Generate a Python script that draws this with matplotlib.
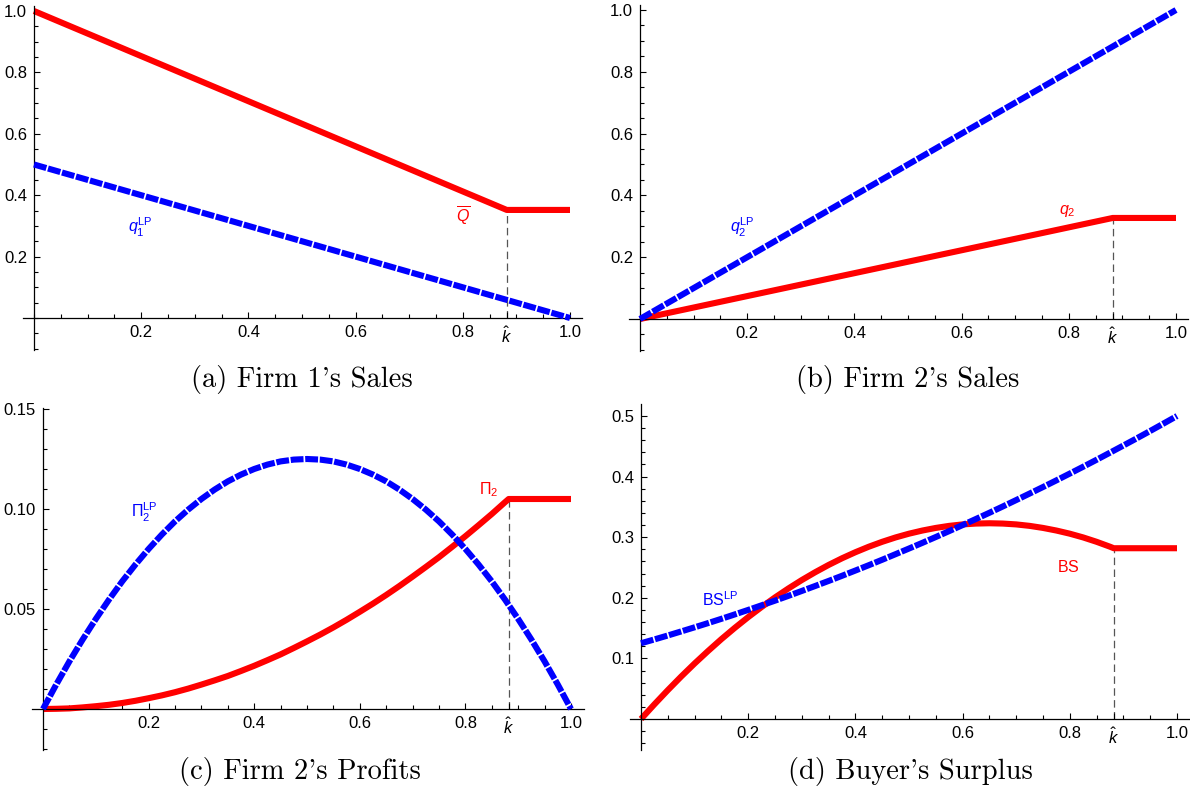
import matplotlib
matplotlib.use('Agg')
import matplotlib.pyplot as plt
from matplotlib.ticker import MultipleLocator

plt.rcParams['font.family'] = ['Liberation Sans', 'DejaVu Sans']
plt.rcParams['mathtext.fontset'] = 'custom'
plt.rcParams['mathtext.rm'] = 'Liberation Sans'
plt.rcParams['mathtext.it'] = 'Liberation Sans:italic'
plt.rcParams['mathtext.bf'] = 'Liberation Sans:bold'

# ------------------------------------------------------------------------------
# data
k_hat = 0.882

# (a) Firm 1's sales
a_red_k = [0.0, k_hat, 1.0]
a_red = [1.0, 0.352, 0.352]
a_blue_k = [0.0, 1.0]
a_blue = [0.5, 0.0]

# (b) Firm 2's sales
b_red_k = [0.0, k_hat, 1.0]
b_red = [0.0, 0.327, 0.327]
b_blue_k = [0.0, 1.0]
b_blue = [0.0, 1.0]

# k values for the curved panels
k_grid = [0.000, 0.025, 0.050, 0.075, 0.100, 0.125, 0.150, 0.175, 0.200, 0.225,
          0.250, 0.275, 0.300, 0.325, 0.350, 0.375, 0.400, 0.425, 0.450, 0.475,
          0.500, 0.525, 0.550, 0.575, 0.600, 0.625, 0.650, 0.675, 0.700, 0.725,
          0.750, 0.775, 0.800, 0.825, 0.850, 0.875, 0.900, 0.925, 0.950, 0.975, 1.000]
red_k = [0.000, 0.025, 0.050, 0.075, 0.100, 0.125, 0.150, 0.175, 0.200, 0.225,
         0.250, 0.275, 0.300, 0.325, 0.350, 0.375, 0.400, 0.425, 0.450, 0.475,
         0.500, 0.525, 0.550, 0.575, 0.600, 0.625, 0.650, 0.675, 0.700, 0.725,
         0.750, 0.775, 0.800, 0.825, 0.850, 0.875, k_hat, 1.000]

# (c) Firm 2's profits
c_blue = [0.0, 0.0122, 0.0238, 0.0347, 0.045, 0.0547, 0.0638, 0.0722, 0.08, 0.0872,
          0.0938, 0.0997, 0.105, 0.1097, 0.1138, 0.1172, 0.12, 0.1222, 0.1238, 0.1247,
          0.125, 0.1247, 0.1238, 0.1222, 0.12, 0.1172, 0.1138, 0.1097, 0.105, 0.0997,
          0.0938, 0.0872, 0.08, 0.0722, 0.0638, 0.0547, 0.045, 0.0347, 0.0238, 0.0122, 0.0]
c_red = [0.0, 0.0001, 0.0003, 0.0008, 0.0014, 0.0021, 0.003, 0.0041, 0.0054, 0.0068,
         0.0084, 0.0102, 0.0122, 0.0143, 0.0165, 0.019, 0.0216, 0.0244, 0.0273, 0.0305,
         0.0338, 0.0372, 0.0408, 0.0446, 0.0486, 0.0527, 0.057, 0.0615, 0.0662, 0.071,
         0.0759, 0.0811, 0.0864, 0.0919, 0.0975, 0.1034, 0.105, 0.105]

# (d) Buyer's surplus
d_blue = [0.125, 0.1313, 0.1378, 0.1445, 0.1513, 0.1582, 0.1653, 0.1726, 0.18, 0.1876,
          0.1953, 0.2032, 0.2113, 0.2195, 0.2278, 0.2363, 0.245, 0.2538, 0.2628, 0.272,
          0.2813, 0.2907, 0.3003, 0.3101, 0.32, 0.3301, 0.3403, 0.3507, 0.3613, 0.372,
          0.3828, 0.3938, 0.405, 0.4163, 0.4278, 0.4395, 0.4513, 0.4632, 0.4753, 0.4876, 0.5]
d_red = [0.0, 0.0242, 0.0476, 0.0701, 0.0916, 0.1121, 0.1318, 0.1504, 0.1681, 0.1848,
         0.2006, 0.2154, 0.2293, 0.2422, 0.2542, 0.2652, 0.2752, 0.2843, 0.2924, 0.2996,
         0.3058, 0.311, 0.3153, 0.3187, 0.3211, 0.3225, 0.323, 0.3225, 0.3211, 0.3187,
         0.3153, 0.311, 0.3058, 0.2996, 0.2924, 0.2843, 0.2818, 0.2818]

captions = ["(a) Firm 1's Sales", "(b) Firm 2's Sales",
            "(c) Firm 2's Profits", "(d) Buyer's Surplus"]

x_ticks = [0.2, 0.4, 0.6, 0.8, k_hat, 1.0]
x_labels = ['0.2', '0.4', '0.6', '0.8', r'$\hat{k}$', '1.0']

# ==============================================================================
W, H = 1190, 796
fig = plt.figure(figsize=(W / 100, H / 100), dpi=100)

RED = '#ff0000'
BLUE = '#0000ff'
LW = 4.4


def make_axes(xo, xe, yo, yt, yt_val, left, right, top, bottom):
    # pixel geometry -> axes rect + limits
    ax = fig.add_axes([left / W, 1 - bottom / H, (right - left) / W, (bottom - top) / H])
    ax.set_xlim((left - xo) / (xe - xo), (right - xo) / (xe - xo))
    ax.set_ylim((yo - bottom) / (yo - yt) * yt_val, (yo - top) / (yo - yt) * yt_val)
    ax.patch.set_alpha(0)
    for s in ['top', 'right']:
        ax.spines[s].set_visible(False)
    ax.spines['left'].set_position(('data', 0))
    ax.spines['bottom'].set_position(('data', 0))
    for s in ['left', 'bottom']:
        ax.spines[s].set_linewidth(0.9)
    ax.tick_params(which='both', direction='in', width=0.8, labelsize=12)
    ax.tick_params(which='major', length=4.5)
    ax.tick_params(which='minor', length=2.6)
    ax.tick_params(axis='x', pad=5)
    ax.tick_params(axis='y', pad=5)
    ax.set_xticks(x_ticks)
    ax.set_xticklabels(x_labels)
    ax.xaxis.set_minor_locator(MultipleLocator(0.05))
    return ax


def blue_line(ax, x, y):
    ax.plot(x, y, color=BLUE, lw=LW, ls=(0, (2.1, 0.28)), dash_capstyle='butt',
            solid_joinstyle='round', zorder=3)


def red_line(ax, x, y):
    ax.plot(x, y, color=RED, lw=LW, solid_capstyle='butt', solid_joinstyle='round', zorder=2)


def k_hat_line(ax, top):
    ax.vlines(k_hat, 0, top, colors='#555555', lw=0.9, linestyles=(0, (6, 3.5)), zorder=1)


# ------------------------------------------------------------------------------
# (a)
ax = make_axes(34, 570, 318, 11, 1.0, 23, 582, 6, 350)
ax.set_yticks([0.2, 0.4, 0.6, 0.8, 1.0])
ax.set_yticklabels(['0.2', '0.4', '0.6', '0.8', '1.0'])
ax.yaxis.set_minor_locator(MultipleLocator(0.05))
k_hat_line(ax, a_red[1])
red_line(ax, a_red_k, a_red)
blue_line(ax, a_blue_k, a_blue)
ax.text(0.198, 0.296, r'$q_1^{\mathrm{LP}}$', color=BLUE, fontsize=11.5, ha='center', va='center')
ax.text(0.80, 0.33, r'$\overline{Q}$', color=RED, fontsize=11.5, ha='center', va='center')

# (b)
ax = make_axes(640, 1176, 319, 10, 1.0, 629, 1188, 5, 351)
ax.set_yticks([0.2, 0.4, 0.6, 0.8, 1.0])
ax.set_yticklabels(['0.2', '0.4', '0.6', '0.8', '1.0'])
ax.yaxis.set_minor_locator(MultipleLocator(0.05))
k_hat_line(ax, b_red[1])
red_line(ax, b_red_k, b_red)
blue_line(ax, b_blue_k, b_blue)
ax.text(0.19, 0.297, r'$q_2^{\mathrm{LP}}$', color=BLUE, fontsize=11.5, ha='center', va='center')
ax.text(0.797, 0.35, r'$q_2$', color=RED, fontsize=11.5, ha='center', va='center')

# (c)
ax = make_axes(43, 571, 709, 409, 0.15, 32, 584, 408, 750)
ax.set_yticks([0.05, 0.10, 0.15])
ax.set_yticklabels(['0.05', '0.10', '0.15'])
ax.yaxis.set_minor_locator(MultipleLocator(0.01))
k_hat_line(ax, c_red[-2])
red_line(ax, red_k, c_red)
blue_line(ax, k_grid, c_blue)
ax.text(0.192, 0.0985, r'$\Pi_2^{\mathrm{LP}}$', color=BLUE, fontsize=11.5, ha='center', va='center')
ax.text(0.844, 0.1095, r'$\Pi_2$', color=RED, fontsize=11.5, ha='center', va='center')

# (d)
ax = make_axes(641, 1177, 719, 416, 0.5, 630, 1189, 404, 750)
ax.set_yticks([0.1, 0.2, 0.3, 0.4, 0.5])
ax.set_yticklabels(['0.1', '0.2', '0.3', '0.4', '0.5'])
ax.yaxis.set_minor_locator(MultipleLocator(0.02))
k_hat_line(ax, d_red[-2])
red_line(ax, red_k, d_red)
blue_line(ax, k_grid, d_blue)
ax.text(0.148, 0.197, r'$\mathrm{BS}^{\mathrm{LP}}$', color=BLUE, fontsize=11.5, ha='center', va='center')
ax.text(0.797, 0.25, r'$\mathrm{BS}$', color=RED, fontsize=11.5, ha='center', va='center')

# ------------------------------------------------------------------------------
caption_xy = [(302, 380), (908, 380), (300, 772), (910, 772)]
for (cx, cy), cap in zip(caption_xy, captions):
    fig.text(cx / W, 1 - cy / H, cap, family=['cmr10', 'DejaVu Serif'],
             fontsize=20.5, ha='center', va='center')

fig.savefig('out.png', dpi=100)
